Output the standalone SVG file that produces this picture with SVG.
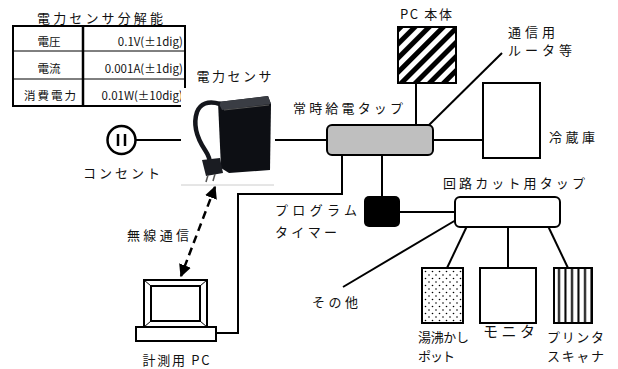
<svg xmlns="http://www.w3.org/2000/svg" width="618" height="369" viewBox="0 0 618 369">
  <style>
    text { font-family: "Noto Sans CJK JP", "Noto Sans", sans-serif; font-size: 13px; fill: #111; }
    .cell { font-size: 11.5px; }
    .big { font-size: 15px; }
    .wire { fill: none; stroke: #000; stroke-width: 2; }
    .box { stroke: #000; stroke-width: 2; }
    .thin { stroke: #000; stroke-width: 1; }
  </style>
  <defs>
    <pattern id="hatch" width="10" height="10" patternUnits="userSpaceOnUse" patternTransform="rotate(45)">
      <rect x="0" y="0" width="5" height="10" fill="#000"/>
    </pattern>
    <pattern id="dots" width="7" height="7" patternUnits="userSpaceOnUse">
      <circle cx="2" cy="2" r="0.8" fill="#000"/>
      <circle cx="5.5" cy="5.5" r="0.8" fill="#000"/>
    </pattern>
    <pattern id="vstripes" x="554" width="6.5" height="10" patternUnits="userSpaceOnUse">
      <rect x="4" y="0" width="2" height="10" fill="#000"/>
    </pattern>
    <marker id="arrow" viewBox="0 0 10 10" refX="9" refY="5" markerWidth="5" markerHeight="5" orient="auto-start-reverse" markerUnits="strokeWidth">
      <path d="M0,0 L10,5 L0,10 Z" fill="#000"/>
    </marker>
  </defs>

  <!-- resolution table -->
  <g id="resolution-table">
    <text x="100" y="23" text-anchor="middle" font-size="14" textLength="126" lengthAdjust="spacing">電力センサ分解能</text>
    <rect x="13" y="26" width="172" height="80" fill="#fff" stroke="#000" stroke-width="2"/>
    <line class="thin" x1="13" y1="51" x2="185" y2="51"/>
    <line class="thin" x1="13" y1="79" x2="185" y2="79"/>
    <line x1="83" y1="26" x2="83" y2="106" stroke="#000" stroke-width="2.5"/>
    <text class="cell" x="49" y="46" text-anchor="middle">電圧</text>
    <text class="cell" x="49" y="73" text-anchor="middle">電流</text>
    <text class="cell" x="50" y="100" text-anchor="middle" textLength="52" lengthAdjust="spacing">消費電力</text>
    <text class="cell" x="183" y="46" text-anchor="end">0.1V(±1dig)</text>
    <text class="cell" x="183" y="73" text-anchor="end">0.001A(±1dig)</text>
    <text class="cell" x="183" y="100" text-anchor="end">0.01W(±10dig)</text>
  </g>

  <!-- connectors -->
  <g id="connectors">
    <line class="wire" x1="136" y1="140" x2="181" y2="140"/>
    <line class="wire" x1="275" y1="140" x2="327" y2="140"/>
    <line class="wire" x1="433" y1="140" x2="483" y2="140"/>
    <line class="wire" x1="416" y1="83" x2="416" y2="125"/>
    <line class="wire" x1="428" y1="126" x2="502" y2="53"/>
    <polyline class="wire" points="216,333 238,333 238,194 342,194 342,155"/>
    <line class="wire" x1="382" y1="155" x2="382" y2="196"/>
    <line class="wire" x1="400" y1="212" x2="455" y2="212"/>
    <line class="wire" x1="456" y1="220" x2="343" y2="287"/>
    <line class="wire" x1="467" y1="226" x2="447" y2="268"/>
    <line class="wire" x1="508" y1="226" x2="508" y2="268"/>
    <line class="wire" x1="548" y1="226" x2="568" y2="268"/>
    <line x1="215" y1="187" x2="181" y2="276" stroke="#000" stroke-width="2.5" stroke-dasharray="8,5" marker-start="url(#arrow)" marker-end="url(#arrow)"/>
  </g>

  <!-- wall outlet -->
  <g id="outlet">
    <circle cx="121.5" cy="140" r="14" fill="#fff" stroke="#000" stroke-width="2.5"/>
    <line x1="118" y1="134" x2="118" y2="146" stroke="#000" stroke-width="2.5"/>
    <line x1="125" y1="134" x2="125" y2="146" stroke="#000" stroke-width="2.5"/>
    <text x="121.5" y="178" text-anchor="middle" textLength="77" lengthAdjust="spacing">コンセント</text>
  </g>

  <!-- power sensor -->
  <g id="power-sensor">
    <text x="234" y="81" text-anchor="middle" textLength="75" lengthAdjust="spacing">電力センサ</text>
    <rect x="181" y="88" width="94" height="97" fill="#fff"/>
    <line x1="181" y1="185" x2="274" y2="185" stroke="#ccc" stroke-width="1"/>
    <path d="M218,102 L268,96 L271,104 L270,170 L229,173 L221,168 Z" fill="#0d0f14"/>
    <path d="M218,102 L268,96 L271,104 L222,110 Z" fill="#3a3d44"/>
    <path d="M224,110 L269,105" stroke="#555" stroke-width="1" fill="none"/>
    <path d="M220,104 C208,100 200,104 197,112 C193,124 197,138 205,150 C209,156 210,160 210,164" fill="none" stroke="#14161c" stroke-width="4.5"/>
    <path d="M202,160 L220,158 L223,173 L206,176 Z" fill="#1a1c22"/>
    <line x1="208" y1="175" x2="206" y2="182" stroke="#555" stroke-width="1.5"/>
    <line x1="215" y1="174" x2="213" y2="181" stroke="#555" stroke-width="1.5"/>
  </g>

  <!-- always-on power strip -->
  <g id="always-on-tap">
    <text x="348" y="113" text-anchor="middle" textLength="110" lengthAdjust="spacing">常時給電タップ</text>
    <rect class="box" x="327" y="125" width="106" height="30" rx="5" fill="#bfbfbf"/>
  </g>

  <!-- PC body -->
  <g id="pc-body">
    <text x="426" y="19" text-anchor="middle" textLength="52" lengthAdjust="spacing">PC 本体</text>
    <rect class="box" x="398" y="27" width="58" height="56" fill="url(#hatch)"/>
  </g>

  <!-- router -->
  <g id="router">
    <text x="508" y="37" textLength="47" lengthAdjust="spacing">通信用</text>
    <text x="508" y="55" textLength="64" lengthAdjust="spacing">ルータ等</text>
  </g>

  <!-- refrigerator -->
  <g id="refrigerator">
    <rect class="box" x="483" y="83" width="57" height="75" fill="#fff"/>
    <text x="549" y="142" textLength="46" lengthAdjust="spacing">冷蔵庫</text>
  </g>

  <!-- program timer -->
  <g id="program-timer">
    <rect x="364" y="196" width="36" height="31" rx="5" fill="#000"/>
    <text x="275" y="215" textLength="82" lengthAdjust="spacing">プログラム</text>
    <text x="275" y="237" textLength="62" lengthAdjust="spacing">タイマー</text>
  </g>

  <!-- switchable power strip -->
  <g id="cut-tap">
    <text x="514" y="188" text-anchor="middle" textLength="142" lengthAdjust="spacing">回路カット用タップ</text>
    <rect class="box" x="455" y="197" width="105" height="30" rx="5" fill="#fff"/>
  </g>

  <!-- other -->
  <g id="other">
    <text x="312" y="307" textLength="46" lengthAdjust="spacing">その他</text>
  </g>

  <!-- kettle -->
  <g id="kettle">
    <rect class="box" x="422" y="268" width="41" height="55" fill="url(#dots)"/>
    <text x="418" y="342" textLength="51" lengthAdjust="spacing">湯沸かし</text>
    <text x="418" y="361" textLength="37" lengthAdjust="spacing">ポット</text>
  </g>

  <!-- monitor -->
  <g id="monitor">
    <rect class="box" x="480" y="268" width="56" height="55" fill="#fff"/>
    <text class="big" x="509" y="337" text-anchor="middle" textLength="52" lengthAdjust="spacing">モニタ</text>
  </g>

  <!-- printer / scanner -->
  <g id="printer">
    <rect class="box" x="554" y="268" width="38" height="55" fill="url(#vstripes)"/>
    <text x="547" y="342" textLength="57" lengthAdjust="spacing">プリンタ</text>
    <text x="547" y="361" textLength="57" lengthAdjust="spacing">スキャナ</text>
  </g>

  <!-- measuring PC -->
  <g id="measuring-pc">
    <text x="158" y="240" text-anchor="middle" textLength="62" lengthAdjust="spacing">無線通信</text>
    <rect class="box" x="144" y="280" width="63" height="47" fill="#fff"/>
    <rect class="box" x="151" y="286" width="49" height="35" fill="#fff"/>
    <line class="thin" x1="144" y1="280" x2="151" y2="286"/>
    <line class="thin" x1="207" y1="280" x2="200" y2="286"/>
    <line class="thin" x1="144" y1="327" x2="151" y2="321"/>
    <line class="thin" x1="207" y1="327" x2="200" y2="321"/>
    <rect class="box" x="136" y="327" width="80" height="14" fill="#fff"/>
    <text x="176" y="365" font-size="12.5" text-anchor="middle" textLength="67" lengthAdjust="spacing">計測用 PC</text>
  </g>
</svg>
